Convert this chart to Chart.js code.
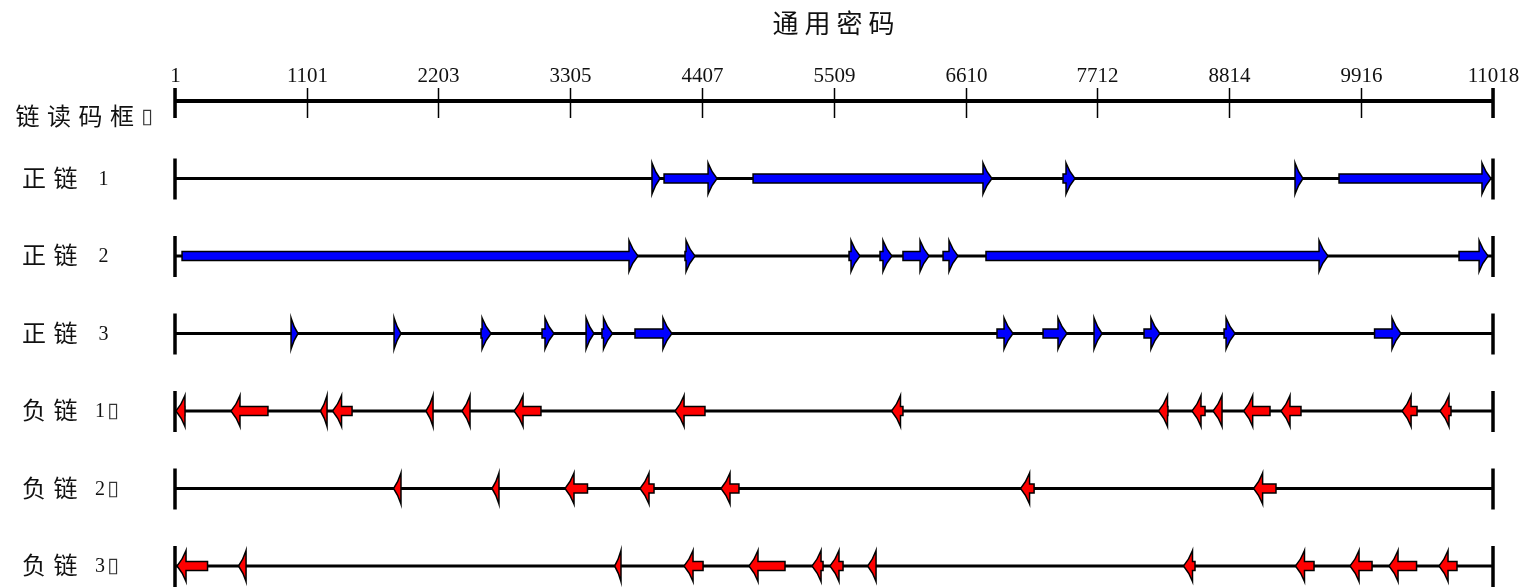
<!DOCTYPE html>
<html>
<head>
<meta charset="utf-8">
<script src="https://cdn.jsdelivr.net/npm/chart.js@4.4.1/dist/chart.umd.min.js"></script>
<style>
  html, body { margin: 0; padding: 0; background: #ffffff; }
  canvas { display: block; }
</style>
</head>
<body>
<canvas id="orf" width="1534" height="588"></canvas>
<script>
// ---- sequence / ruler ----
const titleText = '通用密码';
const seqMin = 1;
const seqMax = 11018;
const tickValues = [1, 1101, 2203, 3305, 4407, 5509, 6610, 7712, 8814, 9916, 11018];

// ---- rows (reading frames) ----
const rowKeys   = ['链读码框', '正链 1', '正链 2', '正链 3', '负链 1', '负链 2', '负链 3'];
const rowNames  = ['链读码框', '正链', '正链', '正链', '负链', '负链', '负链'];
const rowNums   = ['', '1', '2', '3', '1', '2', '3'];
const rowMarks  = ['▯', '', '', '', '▯', '▯', '▯'];

// ---- ORFs per frame: [start, end]; arrow points from start to end ----
const plus1 = [[3988, 4055], [4089, 4532], [4833, 6830], [7424, 7524], [9363, 9430], [9731, 11001]];
const plus2 = [[60, 3871], [4264, 4348], [5635, 5727], [5894, 5994], [6086, 6304], [6421, 6546], [6780, 9639], [10734, 10977]];
const plus3 = [[971, 1029], [1832, 1890], [2559, 2643], [3069, 3169], [3437, 3503], [3570, 3658], [3846, 4155],
               [6872, 7006], [7257, 7457], [7683, 7750], [8101, 8234], [8770, 8862], [10028, 10249]];
const minus1 = [[85, 9], [778, 469], [1272, 1217], [1481, 1318], [2158, 2099], [2467, 2400], [3060, 2835], [4431, 4181],
                [6086, 5990], [8301, 8222], [8611, 8502], [8753, 8678], [9154, 8934], [9413, 9246], [10383, 10258], [10667, 10575]];
const minus2 = [[1890, 1828], [2709, 2651], [3449, 3261], [4005, 3888], [4715, 4565], [7182, 7069], [9204, 9017]];
const minus3 = [[273, 18], [595, 532], [3729, 3676], [4415, 4256], [5100, 4799], [5418, 5326], [5585, 5476], [5861, 5791],
                [8527, 8431], [9522, 9367], [10007, 9823], [10379, 10149], [10717, 10567]];

const frames = [
  { key: rowKeys[1], orfs: plus1,  strand: 1 },
  { key: rowKeys[2], orfs: plus2,  strand: 1 },
  { key: rowKeys[3], orfs: plus3,  strand: 1 },
  { key: rowKeys[4], orfs: minus1, strand: -1 },
  { key: rowKeys[5], orfs: minus2, strand: -1 },
  { key: rowKeys[6], orfs: minus3, strand: -1 }
];

const PLUS_COLOR = '#0000ff';
const MINUS_COLOR = '#ff0000';
const CJK = '"Noto Sans CJK SC", "Noto Sans", sans-serif';
const SERIF = '"Liberation Serif", "DejaVu Serif", serif';
const MARK_FONT = '21px "DejaVu Sans", sans-serif';

function drawSpaced(ctx, text, firstCenter, pitch, y) {
  [...text].forEach((ch, i) => ctx.fillText(ch, firstCenter + i * pitch, y));
}

// arrow outline: body from tail to head base, then a narrow barbed head
function arrowPath(ctx, tail, tip, y, dir) {
  const len = Math.abs(tip - tail);
  const headLen = Math.min(9, len);
  const hb = tip - dir * headLen;
  const bh = 4.5, hh = 15.5;
  ctx.beginPath();
  ctx.moveTo(tail, y - bh);
  ctx.lineTo(hb, y - bh);
  ctx.lineTo(hb, y - hh);
  ctx.quadraticCurveTo(hb + dir * headLen * 0.38, y - 6.5, tip, y);
  ctx.quadraticCurveTo(hb + dir * headLen * 0.38, y + 6.5, hb, y + hh);
  ctx.lineTo(hb, y + bh);
  ctx.lineTo(tail, y + bh);
  ctx.closePath();
}

const orfMap = {
  id: 'orfMap',
  beforeDatasetsDraw(chart) {
    const ctx = chart.ctx;
    const xs = chart.scales.x, ys = chart.scales.y;
    const x0 = xs.getPixelForValue(seqMin), x1 = xs.getPixelForValue(seqMax);
    ctx.save();
    ctx.strokeStyle = '#000';
    ctx.lineCap = 'butt';

    // title
    ctx.fillStyle = '#111';
    ctx.font = '26px ' + CJK;
    ctx.textAlign = 'center';
    ctx.textBaseline = 'middle';
    drawSpaced(ctx, titleText, 785.5, 32, 23);

    // ruler
    const ry = ys.getPixelForValue(0);
    ctx.lineWidth = 4;
    ctx.beginPath(); ctx.moveTo(x0, ry); ctx.lineTo(x1, ry); ctx.stroke();
    ctx.lineWidth = 3.5;
    [x0, x1].forEach(px => { ctx.beginPath(); ctx.moveTo(px, ry - 13); ctx.lineTo(px, ry + 17); ctx.stroke(); });
    ctx.lineWidth = 1.5;
    ctx.font = '21px ' + SERIF;
    ctx.textBaseline = 'alphabetic';
    tickValues.forEach(v => {
      const px = Math.round(xs.getPixelForValue(v)) + 0.5;
      ctx.beginPath(); ctx.moveTo(px, ry - 13); ctx.lineTo(px, ry + 17); ctx.stroke();
      ctx.fillText(String(v), px, ry - 19);
    });

    // frame lines
    for (let i = 1; i < rowKeys.length; i++) {
      const y = ys.getPixelForValue(i);
      ctx.lineWidth = 3;
      ctx.beginPath(); ctx.moveTo(x0, y); ctx.lineTo(x1, y); ctx.stroke();
      ctx.lineWidth = 3.5;
      [x0, x1].forEach(px => { ctx.beginPath(); ctx.moveTo(px, y - 20); ctx.lineTo(px, y + 21); ctx.stroke(); });
    }

    // row labels
    ctx.textBaseline = 'middle';
    for (let i = 0; i < rowKeys.length; i++) {
      const y = ys.getPixelForValue(i);
      ctx.fillStyle = '#111';
      ctx.font = '24px ' + CJK;
      if (i === 0) {
        drawSpaced(ctx, rowNames[i], 27.5, 31.5, y + 15);
        ctx.font = MARK_FONT;
        ctx.fillStyle = '#333';
        ctx.fillText(rowMarks[i], 147, y + 17);
      } else {
        drawSpaced(ctx, rowNames[i], 34, 31.5, y - 1);
        ctx.font = '20px ' + SERIF;
        const nx = rowMarks[i] ? 100 : 103.5;
        ctx.fillText(rowNums[i], nx, y + 1);
        if (rowMarks[i]) {
          ctx.font = MARK_FONT;
          ctx.fillStyle = '#333';
          ctx.fillText(rowMarks[i], 113, y + 1);
        }
      }
    }
    ctx.restore();
  },
  afterDatasetsDraw(chart) {
    const ctx = chart.ctx;
    ctx.save();
    ctx.lineJoin = 'miter';
    chart.data.datasets.forEach((ds, di) => {
      const meta = chart.getDatasetMeta(di);
      const dir = ds.strand;
      meta.data.forEach(el => {
        const p = el.getProps(['x', 'y', 'base'], true);
        const left = Math.min(p.x, p.base), right = Math.max(p.x, p.base);
        const tail = dir > 0 ? left : right;
        const tip = dir > 0 ? right : left;
        arrowPath(ctx, tail, tip, p.y, dir);
        ctx.fillStyle = dir > 0 ? PLUS_COLOR : MINUS_COLOR;
        ctx.fill();
        ctx.lineWidth = 1.5;
        ctx.strokeStyle = '#000';
        ctx.stroke();
      });
    });
    ctx.restore();
  }
};

new Chart(document.getElementById('orf'), {
  type: 'bar',
  data: {
    labels: rowKeys,
    datasets: frames.map(f => ({
      label: f.key,
      strand: f.strand,
      data: f.orfs.map(o => ({ x: [o[0], o[1]], y: f.key })),
      backgroundColor: 'rgba(0,0,0,0)',
      borderWidth: 0,
      barThickness: 9,
      grouped: false
    }))
  },
  options: {
    indexAxis: 'y',
    responsive: false,
    animation: false,
    events: [],
    layout: { padding: { left: 175, right: 41, top: 101, bottom: 22 } },
    scales: {
      x: { type: 'linear', min: seqMin, max: seqMax, display: false },
      y: { type: 'category', offset: false, display: false }
    },
    plugins: { legend: { display: false }, title: { display: false }, tooltip: { enabled: false } }
  },
  plugins: [orfMap]
});
</script>
</body>
</html>
